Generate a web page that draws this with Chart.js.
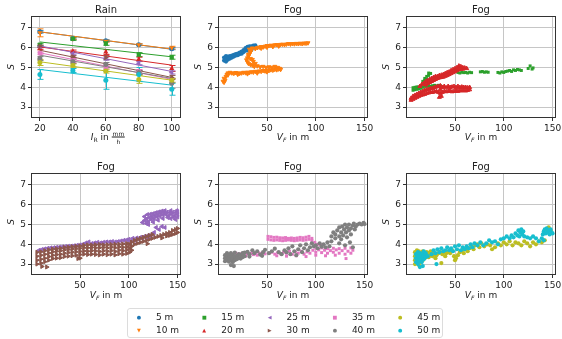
<!DOCTYPE html>
<html>
<head>
<meta charset="utf-8">
<script src="https://cdn.jsdelivr.net/npm/chart.js@4.4.0/dist/chart.umd.min.js"></script>
<style>
body { margin: 0; width: 562px; height: 339px; overflow: hidden; position: relative; background: #fff;
       font-family: "DejaVu Sans", sans-serif; color: #222; }
canvas { position: absolute; }
.t { position: absolute; white-space: nowrap; transform: translate(-50%, -50%); }
.title { font-size: 10px; }
.xl { font-size: 9px; }
.yl { font-size: 9px; font-style: italic; transform: translate(-50%, -50%) rotate(-90deg); }
.xl sub { font-size: 6px; vertical-align: -2px; }
.frac { display: inline-block; vertical-align: middle; text-align: center; font-size: 6px; line-height: 7px; }
.frac span { display: block; padding: 0 1px; }
.frac span:first-child { border-bottom: 1px solid #222; }
#legend { position: absolute; left: 127px; top: 308px; width: 314px; height: 28px; border: 1px solid #dcdcdc; border-radius: 3px; }
.li { position: absolute; font-size: 9px; white-space: nowrap; transform: translateY(-50%); }
.mk { position: absolute; font-size: 5px; transform: translate(-50%, -50%); }
</style>
</head>
<body>
<canvas id="p1"></canvas>
<canvas id="p2"></canvas>
<canvas id="p3"></canvas>
<canvas id="p4"></canvas>
<canvas id="p5"></canvas>
<canvas id="p6"></canvas>

<div class="t title" style="left:106px;top:9px">Rain</div>
<div class="t title" style="left:293px;top:9px">Fog</div>
<div class="t title" style="left:481px;top:9px">Fog</div>
<div class="t title" style="left:106px;top:166px">Fog</div>
<div class="t title" style="left:293px;top:166px">Fog</div>
<div class="t title" style="left:481px;top:166px">Fog</div>

<div class="t xl" style="left:108px;top:137px"><i>I</i><sub>R</sub> in <span class="frac"><span>mm</span><span>h</span></span></div>
<div class="t xl" style="left:293px;top:137px"><i>V</i><sub><i>F</i></sub> in m</div>
<div class="t xl" style="left:481px;top:137px"><i>V</i><sub><i>F</i></sub> in m</div>
<div class="t xl" style="left:106px;top:295px"><i>V</i><sub><i>F</i></sub> in m</div>
<div class="t xl" style="left:293px;top:295px"><i>V</i><sub><i>F</i></sub> in m</div>
<div class="t xl" style="left:481px;top:295px"><i>V</i><sub><i>F</i></sub> in m</div>

<div class="t yl" style="left:11px;top:67px">S</div>
<div class="t yl" style="left:198px;top:67px">S</div>
<div class="t yl" style="left:386px;top:67px">S</div>
<div class="t yl" style="left:11px;top:222px">S</div>
<div class="t yl" style="left:198px;top:222px">S</div>
<div class="t yl" style="left:386px;top:222px">S</div>

<div id="legend"></div>

<script>
const distances = ["5 m", "10 m", "15 m", "20 m", "25 m", "30 m", "35 m", "40 m", "45 m", "50 m"];
const colors = ["#1f77b4", "#ff7f0e", "#2ca02c", "#d62728", "#9467bd", "#8c564b", "#e377c2", "#7f7f7f", "#bcbd22", "#17becf"];
const markerStyles = ["circle", "triangle", "rect", "triangle", "triangle", "triangle", "rect", "circle", "circle", "circle"];
const markerRotation = [0, 180, 0, 0, -90, 90, 0, 0, 0, 0];
const legendGlyphs = ["\u25CF", "\u25BC", "\u25A0", "\u25B2", "\u25C0", "\u25B6", "\u25A0", "\u25CF", "\u25CF", "\u25CF"];

const sTicks = [3, 4, 5, 6, 7];
const rainTicks = [20, 40, 60, 80, 100];
const fogTicks = [50, 100, 150];

// rain: S per intensity, error half-widths, and fitted line ends
const rainIntensity = [20, 40, 60, 80, 100];
const rainS = [
    [6.8, 6.45, 6.35, 6.15, 5.95],
    [6.75, 6.45, 6.33, 6.15, 6.0],
    [6.15, 6.45, 6.22, 5.65, 5.52],
    [5.95, 5.82, 5.78, 5.42, 4.95],
    [6.05, 5.72, 5.45, 5.22, 4.75],
    [6.08, 5.55, 5.5, 4.75, 4.5],
    [5.72, 5.35, 5.02, 4.8, 4.35],
    [5.45, 5.3, 5.15, 4.75, 4.2],
    [5.25, 5.1, 4.82, 4.4, 4.35],
    [4.65, 4.85, 4.35, 4.65, 3.9],
];
const rainErr = [
    [0.06, 0.04, 0.05, 0.04, 0.05],
    [0.2, 0.04, 0.05, 0.05, 0.07],
    [0.05, 0.08, 0.1, 0.1, 0.1],
    [0.05, 0.06, 0.12, 0.1, 0.15],
    [0.05, 0.05, 0.08, 0.08, 0.08],
    [0.05, 0.05, 0.1, 0.1, 0.1],
    [0.05, 0.1, 0.1, 0.1, 0.1],
    [0.1, 0.1, 0.1, 0.1, 0.25],
    [0.15, 0.08, 0.1, 0.2, 0.1],
    [0.25, 0.1, 0.45, 0.35, 0.3],
];
const fitStart = [6.8, 6.8, 6.29, 6.04, 6.09, 5.87, 5.74, 5.62, 5.29, 4.9];
const fitEnd = [5.92, 5.93, 5.54, 5.12, 4.8, 4.5, 4.4, 4.45, 4.36, 4.11];

// fog: [V_F, S] pairs
const fog5 = [[6,5.35],[6,5.5],[8,5.3],[8,5.45],[8,5.58],[10,5.4],[10,5.55],[12,5.45],[12,5.58],[14,5.5],[14,5.6],[16,5.55],[16,5.64],[18,5.6],[18,5.68],[20,5.62],[20,5.7],[22,5.68],[22,5.75],[24,5.7],[24,5.8],[26,5.78],[26,5.88],[28,5.85],[28,5.98],[30,5.9],[30,6.04],[32,5.95],[32,6.07],[34,5.95],[34,6.07],[36,6.02],[36,6.1],[38,6.05],[38,6.12],[31,5.85],[34,5.88]];
const fog10 = [[38,5.95],[40,6.0],[42,6.02],[44,6.05],[46,6.03],[48,6.07],[50,6.1],[52,6.1],[54,6.12],[56,6.1],[58,6.14],[60,6.15],[62,6.13],[64,6.16],[66,6.17],[68,6.15],[70,6.18],[72,6.2],[74,6.18],[76,6.2],[78,6.19],[80,6.21],[82,6.2],[84,6.22],[86,6.2],[88,6.23],[90,6.22],[92,6.24],[44,5.97],[50,6.02],[56,6.05],[62,6.08],[32,5.92],[35,5.98],
    [34,5.9],[33,5.78],[32,5.68],[31,5.58],[30,5.48],[29,5.38],[30,5.28],[31,5.2],[33,5.15],[35,5.12],[31,5.65],[33,5.45],[36,5.3],[38,5.2],[35,5.4],
    [37,5.05],[40,5.08],[43,5.03],[46,5.05],[49,5.0],[52,5.03],[55,5.0],[58,5.05],[61,5.0],[63,4.95],
    [5,4.3],[6,4.45],[7,4.35],[8,4.55],[9,4.65],[10,4.72],[12,4.75],[14,4.72],[16,4.7],[18,4.74],[20,4.72],[22,4.7],[24,4.72],[26,4.75],[28,4.73],[30,4.76],[32,4.74],[34,4.78],[36,4.76],[38,4.8],[40,4.78],[42,4.82],[44,4.8],[46,4.84],[48,4.82],[50,4.86],[52,4.84],[54,4.88],[56,4.86],[58,4.9],[60,4.88],[62,4.92],[64,4.9],[6,4.25],[10,4.62],[20,4.65],[30,4.68],[40,4.72],[50,4.78]];
const fog15 = [[7,3.85],[7,3.98],[9,3.88],[9,4.0],[11,3.9],[11,4.02],[13,3.92],[13,4.02],[15,3.95],[15,4.05],[17,4.0],[17,4.3],[19,4.05],[19,4.35],[19,4.45],[21,4.05],[21,4.4],[21,4.55],[23,4.08],[23,4.6],[23,4.72],[25,4.05],[25,4.7],[27,4.08],[29,4.1],[31,4.05],[33,4.1],[35,4.08],
    [53,4.75],[55,4.72],[57,4.76],[59,4.74],[61,4.75],[63,4.72],[65,4.76],[67,4.74],[76,4.78],[78,4.8],[80,4.76],[82,4.78],[84,4.76],
    [94,4.75],[96,4.72],[98,4.78],[100,4.75],[102,4.8],[104,4.82],[106,4.85],[108,4.8],[110,4.88],[112,4.85],[114,4.9],[116,4.88],[118,4.85],[125,4.95],[127,5.08],[129,4.92],[130,4.98]];
const fog20 = [[14,4.05],[16,4.15],[18,4.2],[20,4.3],[20,4.12],[22,4.35],[22,4.2],[24,4.4],[24,4.25],[26,4.45],[26,4.3],[28,4.5],[28,4.35],[30,4.55],[30,4.4],[32,4.55],[32,4.45],[34,4.6],[34,4.48],[36,4.62],[36,4.5],[38,4.65],[38,4.52],[40,4.7],[40,4.56],[42,4.75],[42,4.6],[44,4.78],[44,4.65],[46,4.85],[46,4.7],[48,4.9],[48,4.75],[50,4.95],[50,4.8],[52,5.0],[52,4.85],[54,5.08],[54,4.9],[56,5.05],[56,4.92],[58,5.0],[58,4.92],[60,4.98],[62,4.95],
    [5,3.35],[5,3.45],[7,3.4],[7,3.55],[9,3.45],[9,3.6],[11,3.5],[11,3.65],[13,3.55],[13,3.7],[15,3.6],[15,3.75],[17,3.62],[17,3.8],[19,3.65],[19,3.85],[21,3.7],[21,3.88],[23,3.72],[23,3.9],[25,3.75],[25,3.95],[27,3.75],[27,3.95],[29,3.78],[29,4.0],[31,3.8],[31,4.02],[33,3.75],[33,4.05],[35,3.7],[35,3.9],[35,4.08],[37,3.75],[37,4.0],[39,3.8],[39,4.05],[41,3.78],[41,3.98],[43,3.8],[43,4.05],[45,3.82],[45,4.0],[47,3.78],[47,4.02],[49,3.8],[49,4.05],[51,3.82],[51,4.0],[53,3.8],[53,4.05],[55,3.85],[55,4.0],[57,3.82],[57,4.02],[59,3.85],[59,4.0],[61,3.82],[61,4.0],[63,3.85],[63,3.98],[65,3.88],[65,4.0],[34,3.5],[36,3.55]];
const fog25 = [[8,3.7],[11,3.74],[14,3.77],[17,3.8],[20,3.82],[23,3.83],[26,3.85],[29,3.86],[32,3.88],[35,3.89],[38,3.9],[41,3.91],[44,3.93],[47,3.95],[50,3.97],[53,4.0],[56,4.07],[59,4.12],[62,4.04],[65,4.07],[68,4.1],[71,4.07],[74,4.1],[77,4.12],[80,4.12],[83,4.14],[86,4.12],[89,4.14],[92,4.17],[95,4.2],[98,4.22],
    [100,4.25],[102,4.15],[104,4.3],[106,4.2],[108,4.32],[110,4.25],[112,4.35],[114,4.3],[116,4.4],[118,4.35],[120,4.45],[122,4.4],[124,4.5],[126,4.6],[128,4.85],[131,4.75],[134,4.9],[137,4.85],
    [114,5.1],[116,5.2],[118,5.05],[118,5.28],[120,5.15],[121,5.35],[123,5.25],[124,5.4],[126,5.3],[127,5.45],[129,5.38],[130,5.5],[132,5.42],[133,5.55],[135,5.48],[136,5.6],[138,5.5],[139,5.62],[141,5.45],[142,5.6],[144,5.5],[145,5.62],[147,5.45],[148,5.6],[150,5.5],[150,5.65],[140,5.35],[146,5.35],[150,5.38],
    [116,5.4],[119,5.5],[122,5.52],[125,5.55],[128,5.6],[131,5.64],[134,5.68],[137,5.7],[143,5.7],[149,5.7],[120,5.0],[125,5.12],[130,5.22],[135,5.3],[143,5.3],[148,5.25]];
const fog30 = [[6,3.0],[6,3.2],[6,3.4],[6,3.6],[10,3.05],[10,3.25],[10,3.45],[10,3.62],[14,3.12],[14,3.3],[14,3.5],[14,3.68],[18,3.2],[18,3.38],[18,3.56],[18,3.72],[22,3.28],[22,3.45],[22,3.62],[22,3.76],[26,3.3],[26,3.48],[26,3.65],[26,3.78],[30,3.32],[30,3.5],[30,3.68],[30,3.8],[34,3.38],[34,3.55],[34,3.72],[34,3.84],[38,3.4],[38,3.58],[38,3.74],[38,3.86],[42,3.42],[42,3.6],[42,3.76],[42,3.88],[46,3.45],[46,3.62],[46,3.78],[46,3.9],[50,3.48],[50,3.64],[50,3.8],[50,3.92],[54,3.5],[54,3.66],[54,3.82],[54,3.95],[58,3.48],[58,3.65],[58,3.82],[58,3.97],
    [62,3.5],[62,3.68],[62,3.84],[62,3.96],[66,3.48],[66,3.66],[66,3.82],[66,3.98],[70,3.46],[70,3.64],[70,3.83],[70,3.99],[74,3.5],[74,3.67],[74,3.84],[74,3.97],[78,3.47],[78,3.65],[78,3.82],[78,3.98],[82,3.5],[82,3.68],[82,3.85],[82,3.99],[86,3.46],[86,3.64],[86,3.83],[86,4.0],[90,3.52],[90,3.7],[90,3.86],[90,4.0],[94,3.5],[94,3.68],[94,3.85],[94,4.02],[98,3.54],[98,3.72],[98,3.88],[98,4.04],
    [101,3.6],[101,3.8],[101,4.0],[103,3.7],[103,3.9],[103,4.12],[106,4.0],[106,4.2],[109,4.05],[109,4.25],[112,4.1],[112,4.3],[115,4.15],[115,4.35],[118,4.2],[118,4.4],[121,4.25],[121,4.45],[124,4.3],[124,4.5],[127,4.35],[130,4.4],[133,4.45],[136,4.5],[139,4.55],[139,4.42],[142,4.6],[142,4.45],[145,4.7],[145,4.5],[148,4.75],[148,4.55],[150,4.8],[150,4.6],[119,4.03],[134,4.32],
    [11,2.88],[16,2.85],[48,3.28],[50,3.3]];
const fog35 = [[8,3.3],[10,3.45],[12,3.35],[14,3.5],[16,3.4],[18,3.55],[20,3.42],[22,3.52],[24,3.45],[26,3.55],[28,3.4],[30,3.5],[32,3.45],[34,3.55],[36,3.48],[38,3.52],[40,3.45],[42,3.55],[44,3.5],[46,3.58],[48,3.52],
    [51,4.25],[51,4.4],[54,4.22],[54,4.38],[57,4.2],[57,4.35],[60,4.22],[60,4.36],[63,4.2],[63,4.33],[66,4.18],[66,4.32],[69,4.2],[69,4.34],[72,4.22],[72,4.3],[75,4.2],[75,4.32],[78,4.18],[78,4.3],[81,4.2],[81,4.32],[84,4.22],[84,4.35],[87,4.2],[87,4.33],[90,4.22],[90,4.36],[93,4.25],[93,4.4],[96,4.2],[96,4.3],[99,4.1],[102,4.0],[105,3.95],
    [52,3.55],[55,3.6],[58,3.5],[61,3.58],[64,3.52],[67,3.6],[70,3.55],[73,3.65],[76,3.5],[79,3.62],[82,3.55],[85,3.65],[88,3.5],[91,3.62],[94,3.55],[97,3.7],[100,3.6],[103,3.72],[106,3.58],[109,3.7],[112,3.55],[115,3.68],[118,3.6],[121,3.72],[124,3.55],[127,3.68],[130,3.5],[133,3.65],[136,3.55],[138,3.7],
    [100,3.8],[106,3.82],[112,3.78],[118,3.8],[124,3.78],[130,3.8],[136,3.82],[60,3.42],[70,3.4],[80,3.42],[90,3.38],[100,3.45],[110,3.42],[120,3.45],[131,3.28]];
const fog40 = [[7,3.15],[7,3.3],[7,3.45],[9,3.2],[9,3.38],[9,3.55],[11,3.12],[11,3.3],[11,3.48],[13,3.2],[13,3.38],[13,3.55],[15,3.1],[15,3.28],[15,3.45],[17,3.2],[17,3.38],[17,3.58],[19,3.25],[19,3.42],[21,3.3],[21,3.5],[23,3.28],[23,3.45],[25,3.35],[25,3.55],[27,3.4],[27,3.58],[13,2.95],[16,2.9],
    [30,3.62],[32,3.5],[35,3.7],[37,3.55],[40,3.65],[43,3.48],[46,3.6],[48,3.72],[52,3.55],[55,3.65],[58,3.78],[62,3.6],[65,3.5],[68,3.7],[32,3.38],[45,3.42],
    [70,3.6],[72,3.8],[74,3.5],[76,3.9],[78,3.65],[80,3.45],[82,3.75],[84,3.95],[86,3.6],[88,3.8],[90,4.0],[92,3.7],[94,3.85],[96,4.05],[98,3.9],
    [100,3.95],[102,3.8],[104,4.05],[106,3.88],[108,4.0],[110,3.85],[112,4.1],[114,3.9],
    [116,4.4],[118,4.6],[120,4.3],[120,4.5],[122,4.7],[124,4.4],[124,4.85],[126,4.6],[127,4.9],[128,4.45],[129,4.75],[130,5.0],[131,4.6],[132,4.85],[134,4.7],[134,5.0],[136,4.8],[136,4.5],[138,4.95],[139,5.05],[140,4.75],[141,4.9],[143,5.0],[145,5.05],[147,5.0],[149,5.08],[150,5.02],[126,4.25],[132,4.35],[135,4.1],[116,4.15],[124,4.05],[130,3.95],[138,3.85]];
const fog45 = [[9,3.0],[9,3.2],[9,3.4],[9,3.6],[11,3.1],[11,3.3],[11,3.5],[11,3.7],[13,2.95],[13,3.25],[13,3.45],[13,3.65],[15,3.1],[15,3.35],[15,3.55],[17,3.2],[17,3.45],[17,3.65],[19,3.3],[19,3.5],[21,3.4],[21,3.6],[23,3.35],[23,3.55],[25,3.45],[25,3.65],[27,3.4],[27,3.6],
    [29,3.5],[31,3.45],[33,3.55],[35,3.6],[37,3.5],[39,3.62],[41,3.55],[43,3.65],[45,3.55],[47,3.7],[49,3.4],[51,3.3],[53,3.45],[55,3.6],[57,3.7],[59,3.55],[61,3.75],[63,3.65],[65,3.8],[67,3.9],[69,3.75],[71,3.95],[73,4.0],[75,3.85],[77,4.05],[80,3.9],[83,4.0],[86,3.95],
    [88,3.75],[91,3.85],[94,4.05],[97,3.95],[100,4.1],[103,4.0],[106,4.15],[109,3.95],[112,4.1],[115,4.05],[118,3.95],[121,4.15],[124,4.05],[127,3.9],[130,4.1],[133,4.0],[136,4.15],[139,4.1],[142,4.2],[144,4.75],[146,4.85],[148,4.7],[30,3.3],[40,3.4],[50,3.2],[36,3.05]];
const fog50 = [[10,3.1],[10,3.3],[10,3.5],[12,3.0],[12,3.2],[12,3.4],[12,3.6],[14,3.15],[14,3.35],[14,3.55],[16,3.1],[16,3.3],[16,3.5],[18,3.25],[18,3.45],[18,3.65],[20,3.35],[20,3.55],[22,3.4],[14,2.85],[17,2.9],[31,3.0],
    [26,3.5],[28,3.7],[30,3.55],[32,3.75],[34,3.6],[36,3.8],[38,3.65],[40,3.7],[42,3.85],[44,3.7],[46,3.8],[48,3.65],[50,3.9],[52,3.75],[54,3.95],[56,3.7],[58,3.85],[60,3.75],[62,3.9],[64,3.8],[66,4.0],[68,3.85],[70,4.05],
    [73,3.95],[76,4.1],[79,3.95],[82,4.05],[85,4.2],[88,4.1],[91,4.15],[94,4.0],[97,4.25],
    [100,4.3],[103,4.4],[106,4.3],[108,4.45],[110,4.35],[112,4.55],[114,4.45],[115,4.7],[116,4.4],[117,4.6],[118,4.75],[119,4.5],[120,4.65],[121,4.4],
    [124,4.35],[127,4.3],[130,4.4],[133,4.3],[136,4.15],[139,4.3],[141,4.2],
    [140,4.5],[141,4.65],[142,4.75],[143,4.55],[144,4.8],[145,4.6],[146,4.7],[147,4.5],[148,4.75],[149,4.6],[150,4.55]];
const fogSeries = [fog5, fog10, fog15, fog20, fog25, fog30, fog35, fog40, fog45, fog50];

Chart.defaults.font.family = '"DejaVu Sans", sans-serif';
Chart.defaults.color = "#222";

// error bars under the markers, and the full axes frame on top
const framePlugin = {
    id: "frame",
    beforeDatasetsDraw(chart) {
        const { ctx } = chart;
        const xs = chart.scales.x, ys = chart.scales.y;
        chart.data.datasets.forEach((ds) => {
            if (!ds.errors) return;
            ctx.save();
            ctx.strokeStyle = ds.borderColor;
            ctx.lineWidth = 1;
            ds.data.forEach((p, j) => {
                const px = Math.round(xs.getPixelForValue(p.x)) + 0.5;
                const top = ys.getPixelForValue(p.y + ds.errors[j]);
                const bot = ys.getPixelForValue(p.y - ds.errors[j]);
                ctx.beginPath();
                ctx.moveTo(px, top); ctx.lineTo(px, bot);
                ctx.moveTo(px - 3, top); ctx.lineTo(px + 3, top);
                ctx.moveTo(px - 3, bot); ctx.lineTo(px + 3, bot);
                ctx.stroke();
            });
            ctx.restore();
        });
    },
    afterDraw(chart) {
        const { ctx, chartArea: a } = chart;
        ctx.save();
        ctx.strokeStyle = "#333";
        ctx.lineWidth = 1;
        ctx.strokeRect(Math.round(a.left) - 0.5, Math.round(a.top) - 0.5,
            Math.round(a.right - a.left) + 1, Math.round(a.bottom - a.top) + 1);
        ctx.restore();
    },
};

function axis(min, max, tickValues, horizontal) {
    return {
        type: "linear",
        min: min,
        max: max,
        afterBuildTicks: (s) => { s.ticks = tickValues.map((v) => ({ value: v })); },
        afterFit: (s) => {
            if (horizontal) { s.height = 18; s.paddingLeft = 0; s.paddingRight = 0; }
            else { s.width = 28; s.paddingTop = 0; s.paddingBottom = 0; }
        },
        grid: { color: "#c6c6c6", lineWidth: 1, tickColor: "#333", tickLength: 4 },
        border: { display: false },
        ticks: { font: { size: 9 }, padding: 2, maxRotation: 0, autoSkip: false, color: "#222" },
    };
}

function makePanel(id, box, xMin, xMax, xTicks, datasets) {
    const cv = document.getElementById(id);
    cv.width = box.w + 36;
    cv.height = box.h + 24;
    cv.style.left = (box.l - 28) + "px";
    cv.style.top = (box.t - 6) + "px";
    return new Chart(cv, {
        type: "scatter",
        data: { datasets: datasets },
        options: {
            responsive: false,
            animation: false,
            devicePixelRatio: 1,
            layout: { padding: { left: 0, top: 6, right: 8, bottom: 0 } },
            plugins: { legend: { display: false }, tooltip: { enabled: false } },
            scales: {
                x: axis(xMin, xMax, xTicks, true),
                y: axis(2.5, 7.55, sTicks, false),
            },
        },
        plugins: [framePlugin],
    });
}

// rain panel: markers with error bars plus a fitted line per distance
const rainSets = [];
distances.forEach((d, i) => {
    rainSets.push({
        label: d + " fit",
        data: [{ x: rainIntensity[0], y: fitStart[i] }, { x: rainIntensity[4], y: fitEnd[i] }],
        showLine: true,
        borderColor: colors[i],
        borderWidth: 1,
        pointRadius: 0,
        order: 20 - i,
    });
    rainSets.push({
        label: d,
        data: rainIntensity.map((x, j) => ({ x: x, y: rainS[i][j] })),
        errors: rainErr[i],
        borderColor: colors[i],
        backgroundColor: colors[i],
        borderWidth: 0,
        pointStyle: markerStyles[i],
        rotation: markerRotation[i],
        pointRadius: markerStyles[i] === "circle" ? 2.5 : 3,
        order: 10 - i,
    });
});

function fogSets(a, b) {
    return [a, b].map((i, k) => ({
        label: distances[i],
        data: fogSeries[i].map((p) => ({ x: p[0], y: p[1] })),
        backgroundColor: colors[i],
        borderColor: colors[i],
        borderWidth: markerStyles[i] === "triangle" ? 1 : 0,
        pointStyle: markerStyles[i],
        rotation: markerRotation[i],
        pointRadius: markerStyles[i] === "triangle" ? 2.3 : 2.1,
        order: 1 - k,
    }));
}

const colL = [32, 219, 407];
const rowT = [17, 174];
const W = 148, H = 100;
const FOG_MIN = 0.8, FOG_MAX = 152.5;

makePanel("p1", { l: colL[0], t: rowT[0], w: W, h: H }, 15.2, 105, rainTicks, rainSets);
makePanel("p2", { l: colL[1], t: rowT[0], w: W, h: H }, FOG_MIN, FOG_MAX, fogTicks, fogSets(0, 1));
makePanel("p3", { l: colL[2], t: rowT[0], w: W, h: H }, FOG_MIN, FOG_MAX, fogTicks, fogSets(2, 3));
makePanel("p4", { l: colL[0], t: rowT[1], w: W, h: H }, FOG_MIN, FOG_MAX, fogTicks, fogSets(4, 5));
makePanel("p5", { l: colL[1], t: rowT[1], w: W, h: H }, FOG_MIN, FOG_MAX, fogTicks, fogSets(6, 7));
makePanel("p6", { l: colL[2], t: rowT[1], w: W, h: H }, FOG_MIN, FOG_MAX, fogTicks, fogSets(8, 9));

// legend: 5 columns, filled column by column
const legend = document.getElementById("legend");
distances.forEach((d, i) => {
    const col = Math.floor(i / 2), row = i % 2;
    const cx = 11 + col * 65.3, cy = 8 + row * 13;
    const mk = document.createElement("span");
    mk.className = "mk";
    mk.style.left = cx + "px";
    mk.style.top = cy + "px";
    mk.style.color = colors[i];
    mk.textContent = legendGlyphs[i];
    legend.appendChild(mk);
    const tx = document.createElement("span");
    tx.className = "li";
    tx.style.left = (cx + 17) + "px";
    tx.style.top = cy + "px";
    tx.textContent = d;
    legend.appendChild(tx);
});
</script>
</body>
</html>
